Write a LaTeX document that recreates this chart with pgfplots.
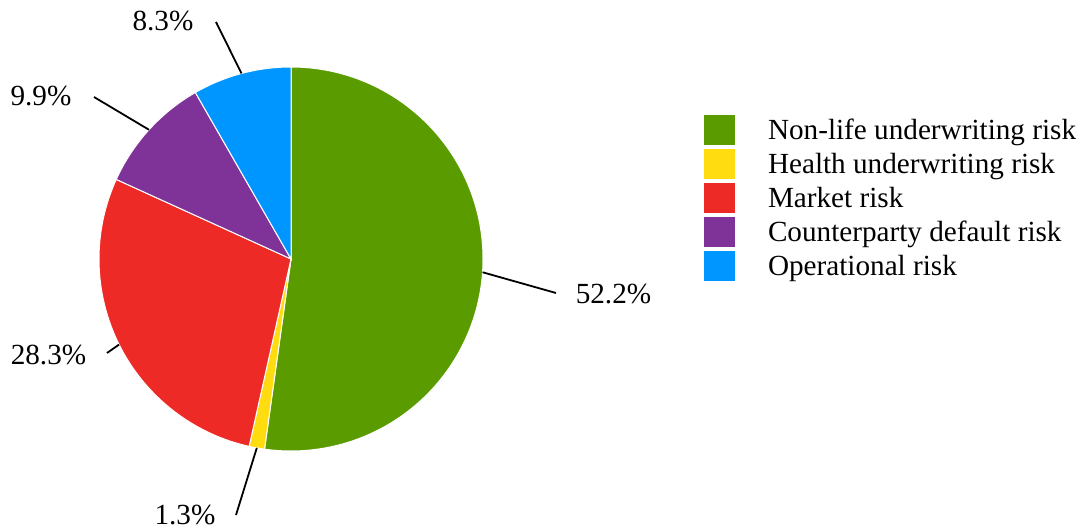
\documentclass[border=0pt]{standalone}
\usepackage{pgfplots}
\usepackage{pgfplotstable}
\pgfplotsset{compat=1.18}
\usepackage{fontspec}
\setmainfont{Liberation Serif}

\definecolor{slice0}{HTML}{5A9B00}
\definecolor{slice1}{HTML}{FFDC0F}
\definecolor{slice2}{HTML}{EE2A26}
\definecolor{slice3}{HTML}{7F3398}
\definecolor{slice4}{HTML}{0096FF}

% value, name, leader-line end (x,y), label centre (x,y)  -- axis units = pixels
\pgfplotstableread[col sep=comma]{
value,name,lx,ly,tx,ty
52.2,Non-life underwriting risk,556,237,613.5,236
1.3,Health underwriting risk,236,15,185,15
28.3,Market risk,107,177,48.5,175
9.9,Counterparty default risk,94,433,41,434
8.3,Operational risk,216,508,163,509
}\piedata

\gdef\cumv{0}
\foreach \i in {0,...,4}{%
  \pgfplotstablegetelem{\i}{value}\of\piedata \let\v\pgfplotsretval
  \pgfmathsetmacro\sa{90-3.6*\cumv}%
  \pgfmathsetmacro\cn{\cumv+\v}%
  \pgfmathsetmacro\ea{90-3.6*\cn}%
  \pgfmathsetmacro\ma{(\sa+\ea)/2}%
  \expandafter\xdef\csname sa\i\endcsname{\sa}%
  \expandafter\xdef\csname ea\i\endcsname{\ea}%
  \expandafter\xdef\csname ma\i\endcsname{\ma}%
  \expandafter\xdef\csname val\i\endcsname{\v}%
  \pgfplotstablegetelem{\i}{name}\of\piedata
  \expandafter\xdef\csname name\i\endcsname{\pgfplotsretval}%
  \pgfplotstablegetelem{\i}{lx}\of\piedata
  \expandafter\xdef\csname lx\i\endcsname{\pgfplotsretval}%
  \pgfplotstablegetelem{\i}{ly}\of\piedata
  \expandafter\xdef\csname ly\i\endcsname{\pgfplotsretval}%
  \pgfplotstablegetelem{\i}{tx}\of\piedata
  \expandafter\xdef\csname tx\i\endcsname{\pgfplotsretval}%
  \pgfplotstablegetelem{\i}{ty}\of\piedata
  \expandafter\xdef\csname ty\i\endcsname{\pgfplotsretval}%
  \xdef\cumv{\cn}%
}

\begin{document}
\begin{tikzpicture}[font=\fontsize{14.6pt}{17pt}\selectfont]
\begin{axis}[
  x=0.5pt, y=0.5pt,
  xmin=0, xmax=1083, ymin=0, ymax=530,
  hide axis, clip=false,
  legend image code/.code={\fill[#1,draw=none] (0pt,-2.5pt) rectangle (15.5pt,12.5pt);},
  legend cell align=left,
  legend style={at={(axis cs:704,415)}, anchor=north west, draw=none, fill=none,
    inner sep=0pt, outer sep=0pt, row sep=2pt, column sep=16.5pt,
    font=\fontsize{14.6pt}{17pt}\selectfont,
    nodes={inner sep=0pt, text depth=2.5pt, anchor=base west}},
]
\path (axis cs:0,0) rectangle (axis cs:1083,530);
\pgfplotsinvokeforeach{0,...,4}{%
  \fill[fill=slice#1, draw=white, line width=0.5pt]
    (axis cs:291,271) -- ++(\csname sa#1\endcsname:96pt)
    arc[start angle=\csname sa#1\endcsname, end angle=\csname ea#1\endcsname, radius=96pt] -- cycle;
}
\pgfplotsinvokeforeach{0,...,4}{%
  \draw[line width=0.9pt, black]
    (axis cs:{291+192*cos(\csname ma#1\endcsname)},{271+192*sin(\csname ma#1\endcsname)})
    -- (axis cs:\csname lx#1\endcsname,\csname ly#1\endcsname);
  \node[inner sep=0pt, anchor=center] at (axis cs:\csname tx#1\endcsname,\csname ty#1\endcsname)
    {\csname val#1\endcsname\%};
}
\addlegendimage{fill=slice0}\addlegendentry{Non-life underwriting risk}
\addlegendimage{fill=slice1}\addlegendentry{Health underwriting risk}
\addlegendimage{fill=slice2}\addlegendentry{Market risk}
\addlegendimage{fill=slice3}\addlegendentry{Counterparty default risk}
\addlegendimage{fill=slice4}\addlegendentry{Operational risk}
\end{axis}
\end{tikzpicture}
\end{document}
